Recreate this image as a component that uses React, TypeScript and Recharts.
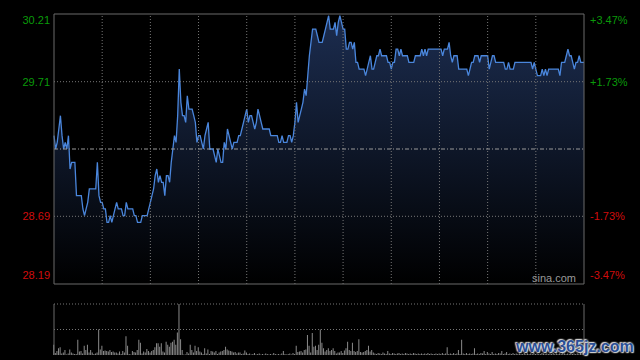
import React from "react";
import {
  ComposedChart,
  Area,
  BarChart,
  Bar,
  XAxis,
  YAxis,
  ReferenceLine,
} from "recharts";

// HK intraday: 09:30-12:00 + 13:00-16:00 = 330 minutes
const prevClose = 29.2;
const pctTicks = [3.47, 1.73, -1.73, -3.47];
const minuteGrid = [30, 60, 90, 120, 150, 180, 210, 240, 270, 300];

const prices = [
  29.30, 29.20, 29.25, 29.35, 29.45, 29.30, 29.20, 29.25, 29.20, 29.30,
  29.05, 29.10, 29.10, 29.10, 28.85, 28.85, 28.85, 28.85, 28.75, 28.70,
  28.75, 28.80, 28.90, 28.90, 28.90, 28.90, 28.90, 29.10, 28.85, 28.80,
  28.80, 28.75, 28.75, 28.65, 28.65, 28.70, 28.65, 28.70, 28.75, 28.80,
  28.75, 28.75, 28.75, 28.70, 28.70, 28.80, 28.75, 28.75, 28.75, 28.75,
  28.70, 28.70, 28.65, 28.65, 28.65, 28.70, 28.70, 28.70, 28.70, 28.75,
  28.80, 28.85, 28.90, 29.00, 29.05, 28.95, 29.00, 28.95, 28.95, 28.85,
  29.00, 29.00, 28.95, 29.10, 29.20, 29.30, 29.25, 29.45, 29.80, 29.55,
  29.45, 29.45, 29.40, 29.60, 29.50, 29.50, 29.50, 29.45, 29.40, 29.25,
  29.30, 29.30, 29.25, 29.20, 29.30, 29.35, 29.40, 29.20, 29.20, 29.20,
  29.15, 29.10, 29.20, 29.15, 29.10, 29.10, 29.25, 29.20, 29.35, 29.30,
  29.25, 29.20, 29.25, 29.25, 29.25, 29.30, 29.30, 29.35, 29.40, 29.45,
  29.50, 29.40, 29.45, 29.45, 29.40, 29.35, 29.40, 29.50, 29.45, 29.40,
  29.35, 29.35, 29.35, 29.35, 29.35, 29.30, 29.30, 29.30, 29.30, 29.30,
  29.25, 29.25, 29.30, 29.25, 29.25, 29.25, 29.30, 29.30, 29.25, 29.30,
  29.40, 29.55, 29.40, 29.45, 29.50, 29.55, 29.65, 29.60, 29.75, 29.90,
  30.00, 30.10, 30.10, 30.10, 30.05, 30.00, 30.00, 30.00, 30.05, 30.10,
  30.15, 30.20, 30.10, 30.10, 30.10, 30.15, 30.05, 30.15, 30.20, 30.15,
  30.10, 30.10, 29.95, 29.95, 30.00, 30.00, 29.95, 30.00, 29.85, 29.85,
  29.80, 29.80, 29.80, 29.80, 29.75, 29.80, 29.85, 29.90, 29.80, 29.80,
  29.85, 29.90, 29.90, 29.95, 29.90, 29.90, 29.90, 29.90, 29.85, 29.85,
  29.80, 29.85, 29.85, 29.95, 29.95, 29.90, 29.95, 29.90, 29.90, 29.90,
  29.90, 29.85, 29.85, 29.85, 29.85, 29.90, 29.90, 29.90, 29.90, 29.95,
  29.90, 29.95, 29.90, 29.95, 29.95, 29.95, 29.95, 29.95, 29.95, 29.95,
  29.95, 29.95, 29.90, 29.95, 29.95, 29.95, 30.00, 29.90, 29.85, 29.90,
  29.90, 29.90, 29.80, 29.80, 29.80, 29.80, 29.80, 29.80, 29.75, 29.80,
  29.85, 29.85, 29.90, 29.90, 29.90, 29.85, 29.90, 29.90, 29.90, 29.90,
  29.90, 29.80, 29.85, 29.90, 29.90, 29.85, 29.85, 29.85, 29.85, 29.85,
  29.85, 29.80, 29.80, 29.85, 29.80, 29.80, 29.80, 29.85, 29.85, 29.85,
  29.85, 29.85, 29.85, 29.85, 29.85, 29.85, 29.85, 29.85, 29.80, 29.85,
  29.80, 29.75, 29.75, 29.75, 29.80, 29.75, 29.80, 29.75, 29.80, 29.80,
  29.80, 29.80, 29.80, 29.80, 29.80, 29.75, 29.85, 29.85, 29.85, 29.90,
  29.95, 29.90, 29.90, 29.85, 29.80, 29.85, 29.85, 29.90, 29.85, 29.85,
  29.85,
];

// relative volume, 100 = top of the volume panel
const volumes = [
  20, 4, 8, 13, 15, 3, 5, 10, 1, 3,
  11, 5, 3, 2, 2, 30, 7, 8, 3, 18,
  10, 20, 5, 10, 5, 2, 3, 5, 50, 11,
  18, 8, 9, 8, 7, 10, 6, 7, 5, 5,
  3, 7, 2, 8, 5, 37, 18, 2, 1, 8,
  6, 5, 10, 30, 24, 3, 7, 5, 12, 8,
  5, 8, 10, 15, 23, 23, 16, 23, 7, 5,
  26, 20, 16, 24, 26, 30, 20, 44, 100, 31,
  10, 1, 1, 6, 3, 20, 10, 5, 18, 8,
  15, 7, 5, 2, 13, 3, 11, 2, 8, 7,
  5, 8, 2, 5, 7, 8, 10, 16, 11, 9,
  8, 7, 5, 6, 3, 5, 5, 2, 3, 9,
  5, 2, 3, 1, 2, 4, 1, 2, 3, 1,
  2, 1, 3, 2, 1, 2, 1, 4, 2, 1,
  2, 1, 3, 8, 2, 1, 2, 3, 1, 4,
  2, 18, 6, 7, 8, 5, 10, 11, 39, 18,
  5, 43, 16, 18, 10, 20, 50, 24, 13, 7,
  10, 13, 8, 10, 13, 8, 3, 5, 5, 8,
  4, 9, 13, 26, 10, 8, 24, 8, 6, 8,
  31, 6, 5, 6, 8, 10, 18, 7, 10, 5,
  3, 2, 4, 3, 2, 5, 3, 2, 8, 3,
  2, 4, 3, 2, 3, 4, 2, 3, 2, 4,
  3, 2, 3, 2, 4, 3, 2, 3, 2, 3,
  2, 3, 2, 4, 2, 3, 2, 2, 3, 2,
  3, 2, 4, 2, 3, 15, 2, 3, 2, 4,
  2, 3, 10, 2, 30, 3, 2, 4, 2, 3,
  2, 3, 13, 2, 3, 2, 4, 3, 8, 2,
  6, 3, 2, 6, 2, 3, 2, 4, 3, 8,
  2, 3, 6, 2, 3, 2, 4, 2, 3, 2,
  3, 2, 2, 4, 2, 3, 2, 3, 2, 4,
  2, 3, 2, 2, 4, 3, 2, 3, 2, 3,
  2, 4, 2, 3, 2, 3, 2, 4, 3, 2,
  3, 2, 4, 2, 3, 2, 3, 2, 4, 3,
  5,
];

const priceTicks = pctTicks.map((p) => prevClose * (1 + p / 100));
const priceMax = priceTicks[0];
const priceMin = priceTicks[priceTicks.length - 1];

const priceData = prices.map((price, minute) => ({ minute, price }));
const volumeData = volumes.map((volume, minute) => ({ minute, volume }));

const GREEN = "#0a9a0a";
const RED = "#d00c0c";
const BORDER = "#6a6a6a";
const DOT = "#777";
const FONT = "Arial, 'Liberation Sans', sans-serif";

function PriceTick(props: any) {
  const { y, payload } = props;
  const v = payload.value as number;
  const pct = (v / prevClose - 1) * 100;
  const color = v > prevClose ? GREEN : RED;
  let dy = 0;
  if (Math.abs(v - priceMax) < 1e-6) dy = 6;
  if (Math.abs(v - priceMin) < 1e-6) dy = -6;
  return (
    <g>
      <text
        x={50}
        y={y + dy}
        textAnchor="end"
        dominantBaseline="central"
        fill={color}
        fontSize={11}
        fontFamily={FONT}
      >
        {v.toFixed(2)}
      </text>
      <text
        x={590}
        y={y + dy}
        textAnchor="start"
        dominantBaseline="central"
        fill={color}
        fontSize={11}
        fontFamily={FONT}
      >
        {(pct > 0 ? "+" : "") + pct.toFixed(2) + "%"}
      </text>
    </g>
  );
}

export default function App() {
  return (
    <div
      style={{
        position: "absolute",
        left: 0,
        top: 0,
        width: 640,
        height: 360,
        background: "#000",
        overflow: "hidden",
      }}
    >
      <div style={{ position: "absolute", left: 0, top: 0 }}>
        <ComposedChart
          width={640}
          height={290}
          data={priceData}
          margin={{ top: 14, right: 56, bottom: 6, left: 0 }}
        >
          <defs>
            <linearGradient id="priceFill" x1="0" y1="0" x2="0" y2="1">
              <stop offset="0%" stopColor="#1c2d50" stopOpacity={1} />
              <stop offset="100%" stopColor="#000000" stopOpacity={1} />
            </linearGradient>
          </defs>
          <XAxis
            dataKey="minute"
            type="number"
            domain={[0, 330]}
            hide
          />
          <YAxis
            width={54}
            domain={[priceMin, priceMax]}
            ticks={priceTicks}
            allowDataOverflow
            axisLine={false}
            tickLine={false}
            tick={<PriceTick />}
          />
          <Area
            type="linear"
            dataKey="price"
            stroke="#4a86dc"
            strokeWidth={1.3}
            fill="url(#priceFill)"
            fillOpacity={1}
            dot={false}
            activeDot={false}
            isAnimationActive={false}
          />
          {minuteGrid.map((m) => (
            <ReferenceLine key={m} x={m} stroke={DOT} strokeDasharray="1 2" />
          ))}
          <ReferenceLine y={priceTicks[1]} stroke={DOT} strokeDasharray="1 2" />
          <ReferenceLine y={priceTicks[2]} stroke={DOT} strokeDasharray="1 2" />
          <ReferenceLine y={prevClose} stroke="#9a9a9a" strokeDasharray="4 2 1 2" />
          <ReferenceLine y={priceMax} stroke={BORDER} />
          <ReferenceLine y={priceMin} stroke={BORDER} />
          <ReferenceLine x={0} stroke={BORDER} />
          <ReferenceLine x={330} stroke={BORDER} />
        </ComposedChart>
      </div>

      <div
        style={{
          position: "absolute",
          left: 532,
          top: 272,
          fontSize: 11,
          lineHeight: "13px",
          color: "#9a9a9a",
          fontFamily: FONT,
        }}
      >
        sina.com
      </div>

      <div style={{ position: "absolute", left: 0, top: 290 }}>
        <BarChart
          width={640}
          height={70}
          data={volumeData}
          margin={{ top: 14, right: 56, bottom: 5, left: 54 }}
        >
          <XAxis dataKey="minute" type="number" domain={[0, 330]} hide />
          <YAxis domain={[0, 100]} hide allowDataOverflow />
          <Bar
            dataKey="volume"
            fill="#8a8a8a"
            barSize={1}
            isAnimationActive={false}
          />
          <ReferenceLine y={100} stroke={DOT} strokeDasharray="1 2" />
          <ReferenceLine y={50} stroke={DOT} strokeDasharray="1 2" />
          <ReferenceLine x={0} stroke={BORDER} />
          <ReferenceLine x={330} stroke={BORDER} />
        </BarChart>
      </div>

      <div
        style={{
          position: "absolute",
          left: 516,
          top: 337,
          fontSize: 16,
          lineHeight: "19px",
          fontWeight: "bold",
          color: "#2b4f96",
          fontFamily: FONT,
          textShadow:
            "0 0 2px #e8e8e8, 0 0 2px #e8e8e8, 1px 1px 1px #cfcfcf, -1px -1px 1px #cfcfcf",
        }}
      >
        www.365jz.com
      </div>
    </div>
  );
}
